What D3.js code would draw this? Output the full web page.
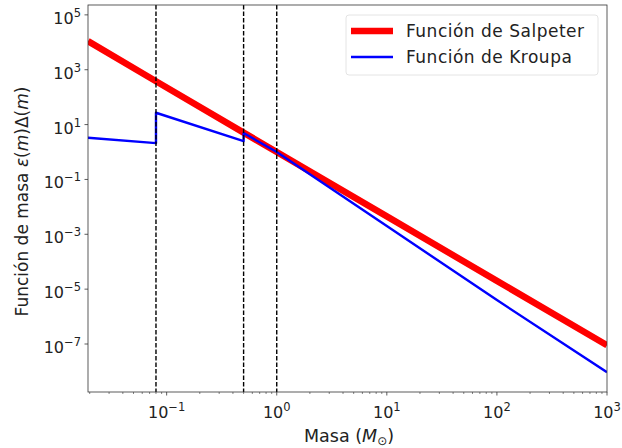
<!DOCTYPE html>
<html>
<head>
<meta charset="utf-8">
<script src="https://cdn.jsdelivr.net/npm/d3@7"></script>
<style>
  body { margin: 0; background: #fff; }
  svg { display: block; font-family: "DejaVu Sans", sans-serif; }
</style>
</head>
<body>
<svg id="chart" width="622" height="448"></svg>
<script>
// ---- data ----
const salpeterMass  = [0.0193, 0.08, 0.5, 1, 10, 100, 1000];
const salpeterValue = [1.1e4, 380, 5.1, 1.0, 4.5e-3, 2.0e-5, 9.0e-8];

const kroupaMass  = [0.0193, 0.08, 0.08, 0.5, 0.5, 1, 10, 100, 1000];
const kroupaValue = [3.3, 2.1, 27, 2.5, 4.9, 1.0, 2.0e-3, 4.0e-6, 9.3e-9];

const breakMasses = [0.08, 0.5, 1];

const xTickExps = [-1, 0, 1, 2, 3];
const yTickExps = [5, 3, 1, -1, -3, -5, -7];

const seriesNames = ["Función de Salpeter", "Función de Kroupa"];
const seriesColors = ["#ff0000", "#0000ff"];
const seriesWidths = [6.5, 2.4];

// ---- layout ----
const svg = d3.select("#chart");
const L = 88, R = 607, T = 5, B = 392;

const x = d3.scaleLog().domain([0.0193, 1000]).range([L, R]);
const y = d3.scaleLog().domain([Math.pow(10, -8.75), Math.pow(10, 5.36)]).range([B, T]);

svg.append("defs").append("clipPath").attr("id", "clip")
  .append("rect").attr("x", L).attr("y", T).attr("width", R - L).attr("height", B - T);

const axisColor = "#333";
const textColor = "#222";
const tickFont = 16, supFont = 11.5;

// minor x ticks
const minor = [];
for (let e = -2; e <= 2; e++) for (let k = 2; k <= 9; k++) {
  const v = k * Math.pow(10, e);
  if (v >= x.domain()[0] && v <= x.domain()[1]) minor.push(v);
}
svg.append("g").selectAll("line").data(minor).join("line")
  .attr("x1", d => x(d)).attr("x2", d => x(d))
  .attr("y1", B).attr("y2", B + 2)
  .attr("stroke", axisColor).attr("stroke-width", 0.6);

function expLabel(t, e) {
  t.append("tspan").text("10");
  t.append("tspan").attr("dy", -7).attr("font-size", supFont)
    .text(e < 0 ? "\u2212" + Math.abs(e) : e);
}

// major x ticks
const xt = svg.append("g");
xTickExps.forEach(e => {
  const px = x(Math.pow(10, e));
  xt.append("line").attr("x1", px).attr("x2", px).attr("y1", B).attr("y2", B + 3.5)
    .attr("stroke", axisColor).attr("stroke-width", 0.8);
  const t = xt.append("text").attr("x", px).attr("y", B + 26)
    .attr("text-anchor", "middle").attr("font-size", tickFont).attr("fill", textColor);
  expLabel(t, e);
});

// y ticks
const yt = svg.append("g");
yTickExps.forEach(e => {
  const py = y(Math.pow(10, e));
  yt.append("line").attr("x1", L - 3.5).attr("x2", L).attr("y1", py).attr("y2", py)
    .attr("stroke", axisColor).attr("stroke-width", 0.8);
  const t = yt.append("text").attr("x", L - 7).attr("y", py + 9)
    .attr("text-anchor", "end").attr("font-size", tickFont).attr("fill", textColor);
  expLabel(t, e);
});

// data lines
const plot = svg.append("g").attr("clip-path", "url(#clip)");
const line = d3.line().x(d => x(d[0])).y(d => y(d[1]));
const series = [
  d3.zip(salpeterMass, salpeterValue),
  d3.zip(kroupaMass, kroupaValue)
];
series.forEach((s, i) => {
  plot.append("path").datum(s).attr("d", line)
    .attr("fill", "none").attr("stroke", seriesColors[i])
    .attr("stroke-width", seriesWidths[i]).attr("stroke-linejoin", "round");
});

// dashed vertical lines
plot.selectAll("line.vl").data(breakMasses).join("line")
  .attr("class", "vl")
  .attr("x1", d => x(d)).attr("x2", d => x(d))
  .attr("y1", T).attr("y2", B)
  .attr("stroke", "#000").attr("stroke-width", 1.4).attr("stroke-dasharray", "4.5,2");

// frame
svg.append("rect").attr("x", L).attr("y", T).attr("width", R - L).attr("height", B - T)
  .attr("fill", "none").attr("stroke", axisColor).attr("stroke-width", 0.8);

// legend
const lg = svg.append("g");
lg.append("rect").attr("x", 346).attr("y", 15).attr("width", 252).attr("height", 60)
  .attr("rx", 3).attr("fill", "#fff").attr("fill-opacity", 0.8)
  .attr("stroke", "#ddd").attr("stroke-width", 0.8);
seriesNames.forEach((n, i) => {
  const cy = 31 + i * 26;
  lg.append("line").attr("x1", 351).attr("x2", 393).attr("y1", cy).attr("y2", cy)
    .attr("stroke", seriesColors[i]).attr("stroke-width", seriesWidths[i]);
  lg.append("text").attr("x", 406).attr("y", cy + 6).attr("font-size", 17)
    .attr("letter-spacing", 0.5).attr("fill", textColor).text(n);
});

// axis labels
svg.append("text").attr("x", 349).attr("y", 442).attr("text-anchor", "middle")
  .attr("font-size", 17.5).attr("fill", textColor)
  .call(t => {
    t.append("tspan").text("Masa (");
    t.append("tspan").attr("font-style", "italic").text("M");
    t.append("tspan").attr("font-size", 12).attr("dy", 3).text("\u2299");
    t.append("tspan").attr("dy", -3).text(")");
  });

svg.append("text").attr("transform", `translate(28, ${(T + B) / 2 + 3}) rotate(-90)`)
  .attr("text-anchor", "middle").attr("font-size", 17).attr("fill", textColor)
  .call(t => {
    t.append("tspan").text("Función de masa ");
    t.append("tspan").attr("font-style", "italic").text("ε");
    t.append("tspan").text("(");
    t.append("tspan").attr("font-style", "italic").text("m");
    t.append("tspan").text(")Δ(");
    t.append("tspan").attr("font-style", "italic").text("m");
    t.append("tspan").text(")");
  });
</script>
</body>
</html>
